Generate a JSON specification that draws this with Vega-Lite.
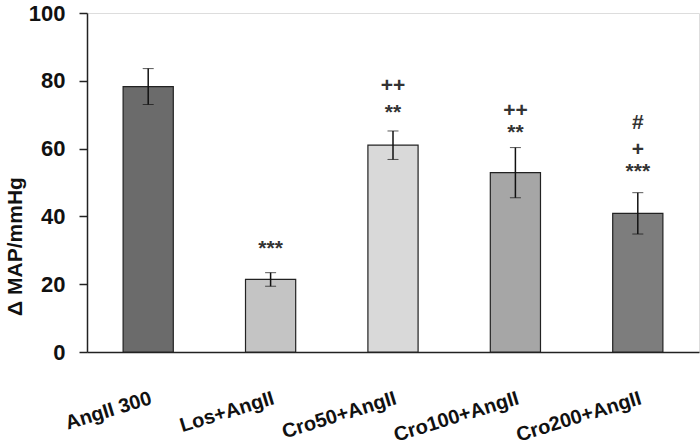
{
  "$schema": "https://vega.github.io/schema/vega-lite/v6.json",
  "autosize": "none",
  "width": 612,
  "height": 339,
  "padding": {"left": 87, "top": 13, "right": 1, "bottom": 92},
  "background": "white",
  "datasets": {
    "bars": [
      {"group": "AngII 300", "mean": 78.3, "sem": 5.3, "fill": "#6b6b6b"},
      {"group": "Los+AngII", "mean": 21.4, "sem": 2.0, "fill": "#c4c4c4"},
      {"group": "Cro50+AngII", "mean": 61.0, "sem": 4.2, "fill": "#d9d9d9"},
      {"group": "Cro100+AngII", "mean": 52.9, "sem": 7.4, "fill": "#a6a6a6"},
      {"group": "Cro200+AngII", "mean": 40.9, "sem": 6.1, "fill": "#7d7d7d"}
    ],
    "notes": [
      {"group": "Los+AngII", "label": "***", "level": 30.5},
      {"group": "Cro50+AngII", "label": "**", "level": 70.5},
      {"group": "Cro50+AngII", "label": "++", "level": 78.5},
      {"group": "Cro100+AngII", "label": "**", "level": 64.5},
      {"group": "Cro100+AngII", "label": "++", "level": 71.0},
      {"group": "Cro200+AngII", "label": "***", "level": 53.0},
      {"group": "Cro200+AngII", "label": "+", "level": 59.5},
      {"group": "Cro200+AngII", "label": "#", "level": 67.5}
    ]
  },
  "encoding": {
    "x": {
      "field": "group",
      "type": "nominal",
      "sort": null,
      "scale": {"paddingInner": 0.59, "paddingOuter": 0.295},
      "axis": {
        "title": null,
        "labelAngle": -17,
        "labelAlign": "right",
        "labelBaseline": "top",
        "labelPadding": 36,
        "labelFont": "Liberation Sans",
        "labelFontWeight": "bold",
        "labelFontSize": 20,
        "labelColor": "#111",
        "labelOverlap": false,
        "labelBound": false,
        "ticks": false,
        "domainColor": "#222",
        "domainWidth": 1.5
      }
    }
  },
  "layer": [
    {
      "data": {"name": "bars"},
      "mark": {"type": "bar", "stroke": "#222", "strokeWidth": 1.2},
      "encoding": {
        "y": {
          "field": "mean",
          "type": "quantitative",
          "scale": {"domain": [0, 100]},
          "title": "Δ MAP/mmHg",
          "axis": {
            "title": "Δ MAP/mmHg",
            "titleFont": "Liberation Sans",
            "titleFontWeight": "bold",
            "titleFontSize": 21,
            "titleColor": "#111",
            "titleY": 233,
            "titleX": -62,
            "values": [0, 20, 40, 60, 80, 100],
            "labelOverlap": false,
            "labelFlush": false,
            "grid": false,
            "labelFont": "Liberation Sans",
            "labelFontWeight": "bold",
            "labelFontSize": 22,
            "labelColor": "#111",
            "labelPadding": 14,
            "tickSize": 8,
            "tickColor": "#222",
            "tickWidth": 1.5,
            "domainColor": "#222",
            "domainWidth": 1.5
          }
        },
        "fill": {"field": "fill", "type": "nominal", "scale": null}
      }
    },
    {
      "data": {"name": "bars"},
      "mark": {"type": "errorbar", "ticks": {"size": 11, "color": "#111", "strokeWidth": 1.5}, "rule": {"color": "#111", "strokeWidth": 1.5}},
      "encoding": {
        "y": {"field": "mean", "type": "quantitative", "title": "Δ MAP/mmHg"},
        "yError": {"field": "sem"}
      }
    },
    {
      "data": {"name": "notes"},
      "mark": {"type": "text", "font": "Liberation Sans", "fontSize": 21, "fontWeight": "bold", "fill": "#333", "baseline": "middle"},
      "encoding": {
        "y": {"field": "level", "type": "quantitative", "title": "Δ MAP/mmHg"},
        "text": {"field": "label"}
      }
    }
  ]
}
